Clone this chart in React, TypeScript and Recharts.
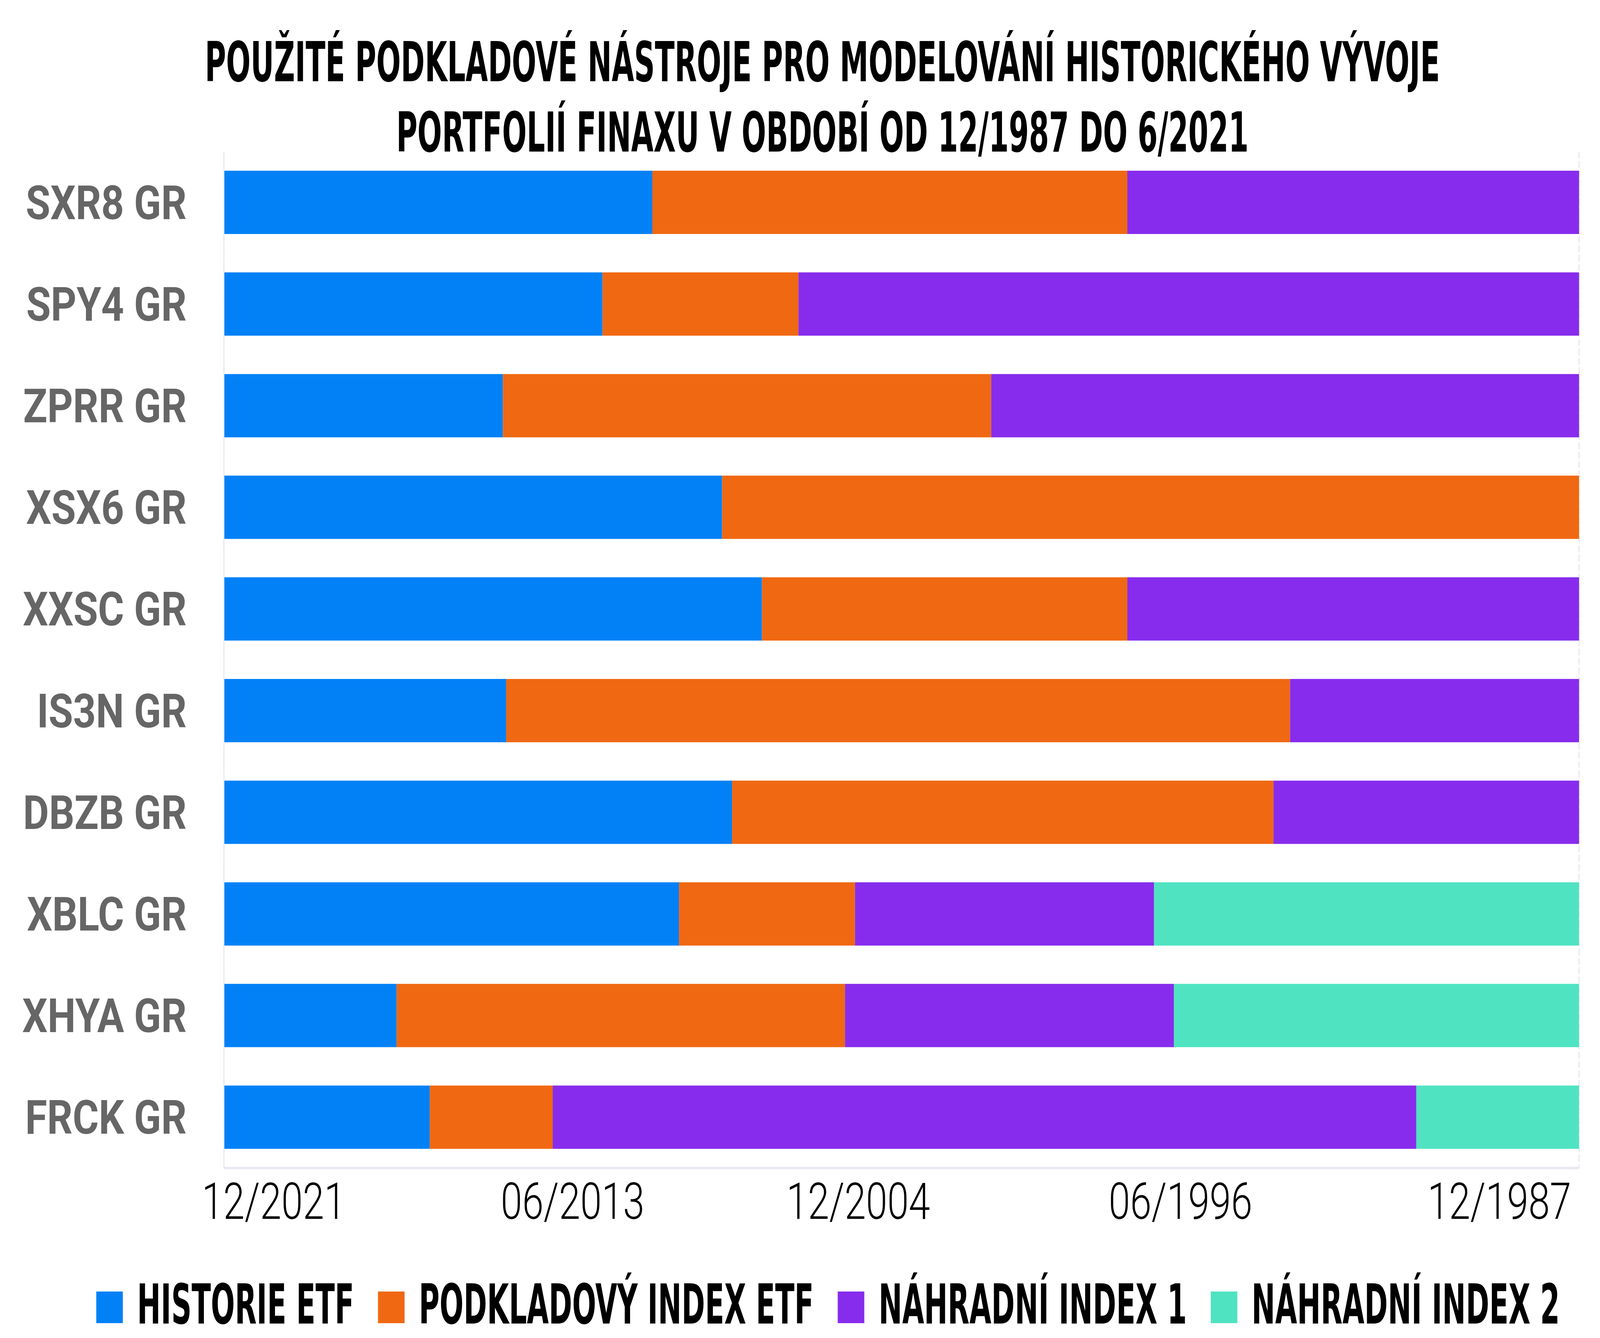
import { BarChart, Bar, XAxis, YAxis, CartesianGrid, Legend } from 'recharts'

// lengths in months, counted back from 12/2021 (0) to 12/1987 (408)
const tickers = ['SXR8 GR', 'SPY4 GR', 'ZPRR GR', 'XSX6 GR', 'XXSC GR', 'IS3N GR', 'DBZB GR', 'XBLC GR', 'XHYA GR', 'FRCK GR']
const historieEtf = [129, 114, 84, 150, 162, 85, 153, 137, 52, 62]
const podkladovyIndex = [143, 59, 147, 258, 110, 236, 163, 53, 135, 37]
const nahradniIndex1 = [136, 235, 177, 0, 136, 87, 92, 90, 99, 260]
const nahradniIndex2 = [0, 0, 0, 0, 0, 0, 0, 128, 122, 49]

const dateLabels = ['12/2021', '06/2013', '12/2004', '06/1996', '12/1987']
// where the date labels sit on the month axis
const dateLabelMonths = [15, 105, 191, 288, 384]
const gridMonths = [0, 136, 272, 408]

const seriesKeys = ['historie', 'podkladovy', 'nahradni1', 'nahradni2']
const seriesNames = ['HISTORIE ETF', 'PODKLADOVÝ INDEX ETF', 'NÁHRADNÍ INDEX 1', 'NÁHRADNÍ INDEX 2']
const seriesColors = ['#0281F6', '#F06812', '#872CEC', '#50E3C2']

const titleLines = [
  'POUŽITÉ PODKLADOVÉ NÁSTROJE PRO MODELOVÁNÍ HISTORICKÉHO VÝVOJE',
  'PORTFOLIÍ FINAXU V OBDOBÍ OD 12/1987 DO 6/2021',
]

const W = 4817
const H = 3425
const HEAD_FONT = '"DejaVu Sans Condensed", "DejaVu Sans", sans-serif'
const HEAD_SIZE = 140
const TITLE_SQUEEZE = 0.69
const LEGEND_SQUEEZE = 0.675

const data = tickers.map((t, i) => ({
  ticker: t,
  historie: historieEtf[i],
  podkladovy: podkladovyIndex[i],
  nahradni1: nahradniIndex1[i],
  nahradni2: nahradniIndex2[i],
}))

let ctx: CanvasRenderingContext2D | null = null
function textWidth(text: string) {
  if (!ctx) ctx = document.createElement('canvas').getContext('2d')
  if (!ctx) return text.length * HEAD_SIZE * 0.5
  ctx.font = `bold ${HEAD_SIZE}px ${HEAD_FONT}`
  return ctx.measureText(text).width
}

// condensed heading text: squeezed horizontally around its anchor point
function HeadText({ x, y, text, squeeze, anchor = 'start' }: { x: number; y: number; text: string; squeeze: number; anchor?: string }) {
  return (
    <text
      x={0}
      y={0}
      textAnchor={anchor}
      fontFamily={HEAD_FONT}
      fontWeight={700}
      fontSize={HEAD_SIZE}
      fill="#000"
      transform={`translate(${x} ${y}) scale(${squeeze} 1)`}
    >
      {text}
    </text>
  )
}

function DateTick(props: any) {
  const { x, y, payload } = props
  const i = dateLabelMonths.indexOf(payload.value)
  return (
    <text
      x={0}
      y={0}
      textAnchor="middle"
      fontFamily="Roboto"
      fontWeight={300}
      fontSize={129}
      fill="#000"
      transform={`translate(${x} ${y + 130}) scale(0.9 1)`}
    >
      {dateLabels[i]}
    </text>
  )
}

function LegendContent() {
  const box = 80
  const gapIn = 43
  const gapOut = 72
  const widths = seriesNames.map((n) => textWidth(n) * LEGEND_SQUEEZE)
  const total = widths.reduce((a, b) => a + b, 0) + seriesNames.length * (box + gapIn) + (seriesNames.length - 1) * gapOut
  let x = 2493 - total / 2
  return (
    <svg width={W} height={245} style={{ display: 'block' }}>
      {seriesNames.map((n, i) => {
        const sx = x
        x += box + gapIn + widths[i] + gapOut
        return (
          <g key={n}>
            <rect x={sx} y={126} width={box} height={81} fill={seriesColors[i]} />
            <HeadText x={sx + box + gapIn} y={208} text={n} squeeze={LEGEND_SQUEEZE} />
          </g>
        )
      })}
    </svg>
  )
}

export default function App() {
  // the window may be narrower than the chart; fit it horizontally
  const fitX = typeof window !== 'undefined' && window.innerWidth > 0 ? Math.min(1, window.innerWidth / W) : 1
  return (
    <div
      style={{
        position: 'absolute',
        left: 0,
        top: 0,
        width: W,
        height: H,
        background: '#fff',
        transform: `scale(${fitX}, 1)`,
        transformOrigin: '0 0',
      }}
    >
      <BarChart
        width={W}
        height={H}
        data={data}
        layout="vertical"
        margin={{ top: 388, right: 63, bottom: 0, left: 0 }}
      >
        <XAxis xAxisId="grid" type="number" domain={[0, 408]} ticks={gridMonths} hide />
        <CartesianGrid
          xAxisId="grid"
          horizontal={false}
          stroke="#e3e6ee"
          strokeWidth={3}
          strokeDasharray="18 6"
        />
        <XAxis
          type="number"
          domain={[0, 408]}
          ticks={dateLabelMonths}
          height={190}
          tickSize={0}
          tickMargin={0}
          tickLine={false}
          axisLine={{ stroke: '#e6e9f0', strokeWidth: 6 }}
          tick={DateTick}
        />
        <YAxis
          type="category"
          dataKey="ticker"
          width={674}
          tickSize={0}
          tickMargin={112}
          tickLine={false}
          axisLine={{ stroke: '#e6e9f0', strokeWidth: 3 }}
          tick={{ fontFamily: 'Roboto', fontWeight: 700, fontSize: 120, fill: '#666666' }}
        />
        <Legend
          verticalAlign="bottom"
          align="left"
          height={245}
          width={W}
          wrapperStyle={{ left: 0, bottom: 0 }}
          content={LegendContent}
        />
        {seriesKeys.map((k, i) => (
          <Bar
            key={k}
            dataKey={k}
            name={seriesNames[i]}
            stackId="a"
            fill={seriesColors[i]}
            barSize={162}
            isAnimationActive={false}
          />
        ))}
      </BarChart>
      <svg width={W} height={470} style={{ position: 'absolute', left: 0, top: 0, pointerEvents: 'none' }}>
        <HeadText x={2476} y={208} text={titleLines[0]} squeeze={TITLE_SQUEEZE} anchor="middle" />
        <HeadText x={2476} y={388} text={titleLines[1]} squeeze={TITLE_SQUEEZE} anchor="middle" />
      </svg>
    </div>
  )
}
